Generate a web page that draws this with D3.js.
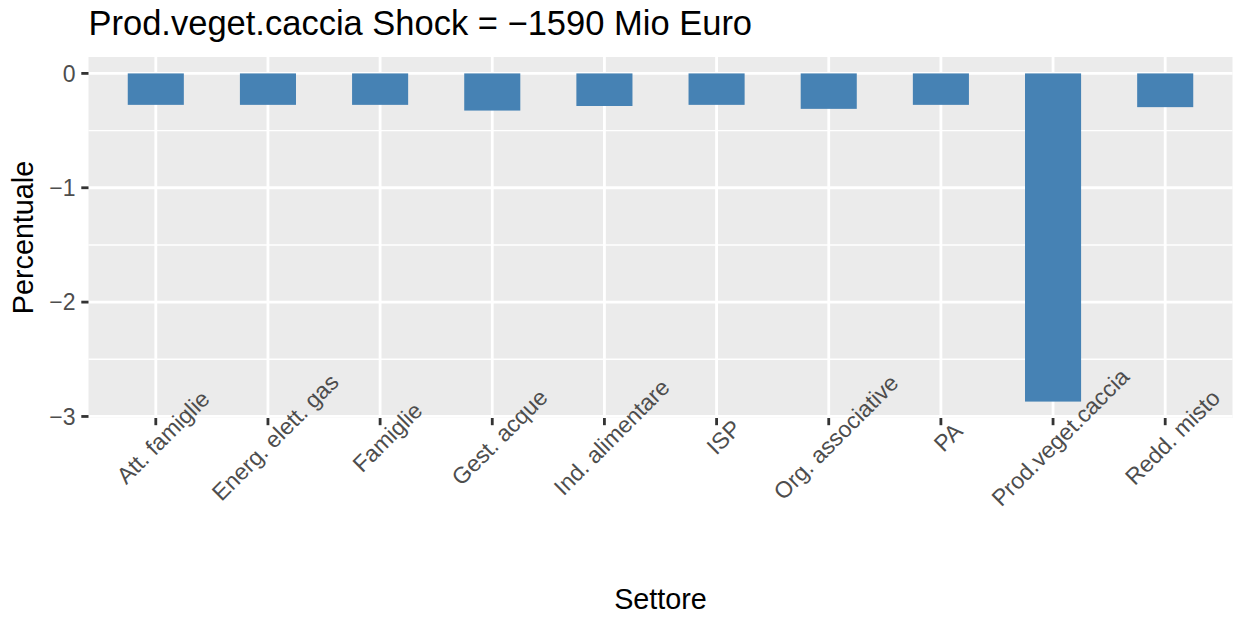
<!DOCTYPE html>
<html>
<head>
<meta charset="utf-8">
<script src="https://cdn.jsdelivr.net/npm/d3@7"></script>
<style>
  body { margin: 0; background: #fff; }
  text { font-family: "Liberation Sans", Arial, sans-serif; }
</style>
</head>
<body>
<div id="chart"></div>
<script>
// Settori e variazioni percentuali
const settori = ["Att. famiglie", "Energ. elett. gas", "Famiglie", "Gest. acque", "Ind. alimentare",
                 "ISP", "Org. associative", "PA", "Prod.veget.caccia", "Redd. misto"];
const percentuale = [-0.275, -0.275, -0.275, -0.325, -0.285, -0.275, -0.31, -0.275, -2.87, -0.295];
const yTicks = [0, -1, -2, -3];
const yMinor = [-0.5, -1.5, -2.5];
const titolo = "Prod.veget.caccia Shock = \u22121590 Mio Euro";

const width = 1236;
const height = 617;
const panel = { left: 88.5, right: 1232.5, top: 57, bottom: 418 };

const svg = d3.select('#chart')
    .append('svg')
    .attr('width', width)
    .attr('height', height);

// scala discreta come in ggplot (espansione 0.6 per lato, barre larghe 0.5)
const x = d3.scaleBand()
    .domain(settori)
    .range([panel.left, panel.right])
    .paddingInner(0.5)
    .paddingOuter(0.35);

const yMin = d3.min(percentuale), yMax = 0;
const pad = (yMax - yMin) * 0.05;
const y = d3.scaleLinear()
    .domain([yMin - pad, yMax + pad])
    .range([panel.bottom, panel.top]);

const center = d => x(d) + x.bandwidth() / 2;
const minus = v => v < 0 ? "\u2212" + Math.abs(v) : String(v);

// sfondo del pannello
svg.append('rect')
    .attr('x', panel.left).attr('y', panel.top)
    .attr('width', panel.right - panel.left)
    .attr('height', panel.bottom - panel.top)
    .attr('fill', '#EBEBEB');

// griglia minore
svg.append('g').selectAll('line')
    .data(yMinor).enter().append('line')
    .attr('x1', panel.left).attr('x2', panel.right)
    .attr('y1', d => y(d)).attr('y2', d => y(d))
    .attr('stroke', '#fff').attr('stroke-width', 1.4);

// griglia maggiore
svg.append('g').selectAll('line')
    .data(yTicks).enter().append('line')
    .attr('x1', panel.left).attr('x2', panel.right)
    .attr('y1', d => y(d)).attr('y2', d => y(d))
    .attr('stroke', '#fff').attr('stroke-width', 2.8);

svg.append('g').selectAll('line')
    .data(settori).enter().append('line')
    .attr('x1', center).attr('x2', center)
    .attr('y1', panel.top).attr('y2', panel.bottom)
    .attr('stroke', '#fff').attr('stroke-width', 2.8);

// barre
svg.append('g').selectAll('rect')
    .data(settori).enter().append('rect')
    .attr('x', d => x(d))
    .attr('width', x.bandwidth())
    .attr('y', (d, i) => y(Math.max(0, percentuale[i])))
    .attr('height', (d, i) => Math.abs(y(percentuale[i]) - y(0)))
    .attr('fill', '#4682B4');

// asse y
const yAxis = svg.append('g');
yAxis.selectAll('line')
    .data(yTicks).enter().append('line')
    .attr('x1', panel.left - 7.2).attr('x2', panel.left)
    .attr('y1', d => y(d)).attr('y2', d => y(d))
    .attr('stroke', '#333').attr('stroke-width', 2.8);
yAxis.selectAll('text')
    .data(yTicks).enter().append('text')
    .attr('x', panel.left - 13)
    .attr('y', d => y(d))
    .attr('dy', '0.36em')
    .attr('text-anchor', 'end')
    .style('font-size', '23px')
    .attr('fill', '#4D4D4D')
    .text(minus);

// asse x
const xAxis = svg.append('g');
xAxis.selectAll('line')
    .data(settori).enter().append('line')
    .attr('x1', center).attr('x2', center)
    .attr('y1', panel.bottom).attr('y2', panel.bottom + 7.2)
    .attr('stroke', '#333').attr('stroke-width', 2.8);
xAxis.selectAll('text')
    .data(settori).enter().append('text')
    .attr('transform', d => `translate(${center(d) + 7},437) rotate(-45)`)
    .attr('text-anchor', 'middle')
    .attr('dy', '0.36em')
    .style('font-size', '23px')
    .attr('fill', '#4D4D4D')
    .text(d => d);

// titoli
svg.append('text')
    .attr('x', panel.left).attr('y', 35)
    .style('font-size', '34.5px')
    .attr('fill', '#000')
    .text(titolo);

svg.append('text')
    .attr('x', (panel.left + panel.right) / 2).attr('y', 609)
    .attr('text-anchor', 'middle')
    .style('font-size', '28.75px')
    .attr('fill', '#000')
    .text('Settore');

svg.append('text')
    .attr('transform', `translate(33,${(panel.top + panel.bottom) / 2}) rotate(-90)`)
    .attr('text-anchor', 'middle')
    .style('font-size', '28.75px')
    .attr('fill', '#000')
    .text('Percentuale');
</script>
</body>
</html>
